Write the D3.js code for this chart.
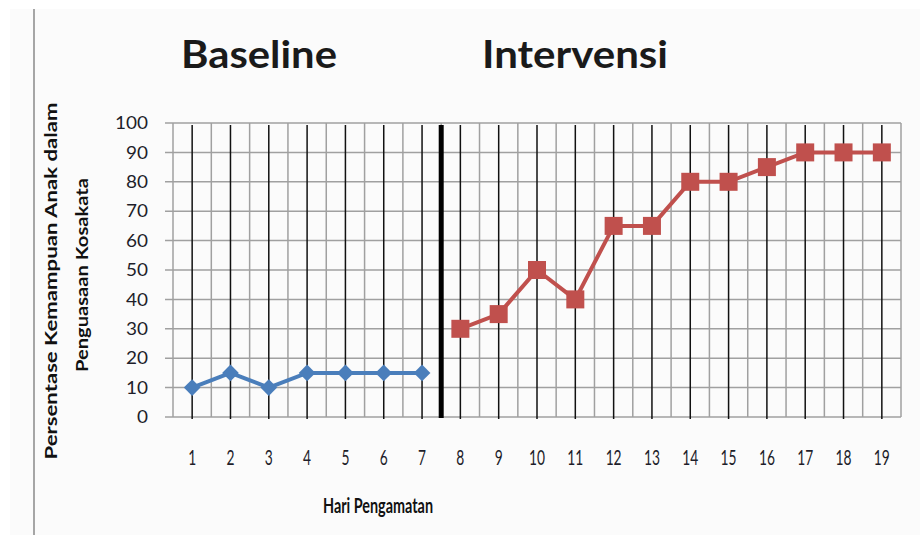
<!DOCTYPE html>
<html><head><meta charset="utf-8">
<script src="https://cdn.jsdelivr.net/npm/d3@7"></script>
<style>body{margin:0;background:#fff}svg{display:block}</style>
</head><body>
<script>
const days = d3.range(1, 20);
const baselineDays = [1,2,3,4,5,6,7];
const baselineValues = [10,15,10,15,15,15,15];
const interventionDays = [8,9,10,11,12,13,14,15,16,17,18,19];
const interventionValues = [30,35,50,40,65,65,80,80,85,90,90,90];
const yTicks = [0,10,20,30,40,50,60,70,80,90,100];
const phaseLabels = ["Baseline", "Intervensi"];
const xTitle = "Hari Pengamatan";
const yTitleLines = ["Persentase Kemampuan Anak dalam", "Penguasaan Kosakata"];

(function(){
const W = 920, H = 535;
const svg = d3.select("body").append("svg").attr("width", W).attr("height", H);
svg.append("rect").attr("x",10).attr("y",9).attr("width",W-10).attr("height",H-9).attr("fill","#fbfbfb");
svg.append("line").attr("x1",34).attr("x2",34).attr("y1",9).attr("y2",H).attr("stroke","#a6a6a6").attr("stroke-width",2);

const pL = 173, pR = 901, pT = 123, pB = 417;
const x = d3.scaleBand().domain(days).range([pL, pR]);
const xc = d => x(d) + x.bandwidth()/2;
const y = d3.scaleLinear().domain([0,100]).range([pB, pT]);

const grid = svg.append("g");
grid.selectAll("line.h").data(yTicks).join("line")
  .attr("x1", pL-8).attr("x2", pR).attr("y1", d=>y(d)).attr("y2", d=>y(d))
  .attr("stroke","#a0a0a0").attr("stroke-width",1.5);
const bounds = days.map(d => x(d)).concat([pR]);
grid.selectAll("line.v").data(bounds).join("line")
  .attr("x1", d=>d).attr("x2", d=>d).attr("y1", pT).attr("y2", pB)
  .attr("stroke","#a0a0a0").attr("stroke-width",1.5);
grid.selectAll("line.b").data(days).join("line")
  .attr("x1", d=>xc(d)).attr("x2", d=>xc(d)).attr("y1", pT+2).attr("y2", pB+2)
  .attr("stroke","#111").attr("stroke-width",1.5);
const sepX = x(8);
svg.append("line").attr("x1", sepX).attr("x2", sepX).attr("y1", pT+2).attr("y2", pB+1)
  .attr("stroke","#000").attr("stroke-width",5);

svg.append("g").selectAll("text").data(yTicks).join("text")
  .attr("x", 148).attr("y", d=>y(d)).attr("dy","0.36em").attr("text-anchor","end")
  .attr("font-family","Lato").attr("font-size",17).attr("fill","#1e1e2a")
  .attr("textLength", d=>String(d).length*11).attr("lengthAdjust","spacingAndGlyphs").text(d=>d);
svg.append("g").selectAll("text").data(days).join("text")
  .attr("x", d=>xc(d)).attr("y", 465).attr("text-anchor","middle")
  .attr("font-family","Lato").attr("font-size",21).attr("fill","#1e1e2a")
  .attr("textLength", d=>String(d).length*8).attr("lengthAdjust","spacingAndGlyphs").text(d=>d);

svg.append("text").attr("x",181).attr("y",68)
  .attr("font-family","Lato").attr("font-weight","bold").attr("font-size",38).attr("fill","#1a1a1a")
  .attr("textLength",156).attr("lengthAdjust","spacingAndGlyphs").text(phaseLabels[0]);
svg.append("text").attr("x",482).attr("y",68)
  .attr("font-family","Lato").attr("font-weight","bold").attr("font-size",38).attr("fill","#1a1a1a")
  .attr("textLength",186).attr("lengthAdjust","spacingAndGlyphs").text(phaseLabels[1]);
svg.append("text").attr("x",323).attr("y",513)
  .attr("font-family","Lato").attr("font-weight","bold").attr("font-size",20).attr("fill","#111")
  .attr("textLength",110).attr("lengthAdjust","spacingAndGlyphs").text(xTitle);
const yPos = [{x:57, cy:281, len:357}, {x:88, cy:275, len:194}];
yTitleLines.forEach((t,i)=>{
  svg.append("text").attr("transform",`translate(${yPos[i].x},${yPos[i].cy}) rotate(-90)`)
    .attr("x", -yPos[i].len/2).attr("font-family","Lato").attr("font-weight","bold")
    .attr("font-size",17).attr("fill","#111")
    .attr("textLength", yPos[i].len).attr("lengthAdjust","spacingAndGlyphs").text(t);
});

const line = d3.line().x(d=>xc(d[0])).y(d=>y(d[1]));
const bData = baselineDays.map((d,i)=>[d, baselineValues[i]]);
const iData = interventionDays.map((d,i)=>[d, interventionValues[i]]);
svg.append("path").datum(bData).attr("d", line).attr("fill","none").attr("stroke","#4a7ebb").attr("stroke-width",4);
svg.append("g").selectAll("path").data(bData).join("path")
  .attr("d", d3.symbol().type(d3.symbolSquare).size(140))
  .attr("transform", d=>`translate(${xc(d[0])},${y(d[1])}) rotate(45)`)
  .attr("fill","#4a7ebb");
svg.append("path").datum(iData).attr("d", line).attr("fill","none").attr("stroke","#c0504d").attr("stroke-width",4);
svg.append("g").selectAll("rect").data(iData).join("rect")
  .attr("x", d=>xc(d[0])-9).attr("y", d=>y(d[1])-9).attr("width",18).attr("height",18)
  .attr("fill","#c0504d");
})();
</script>
</body></html>
